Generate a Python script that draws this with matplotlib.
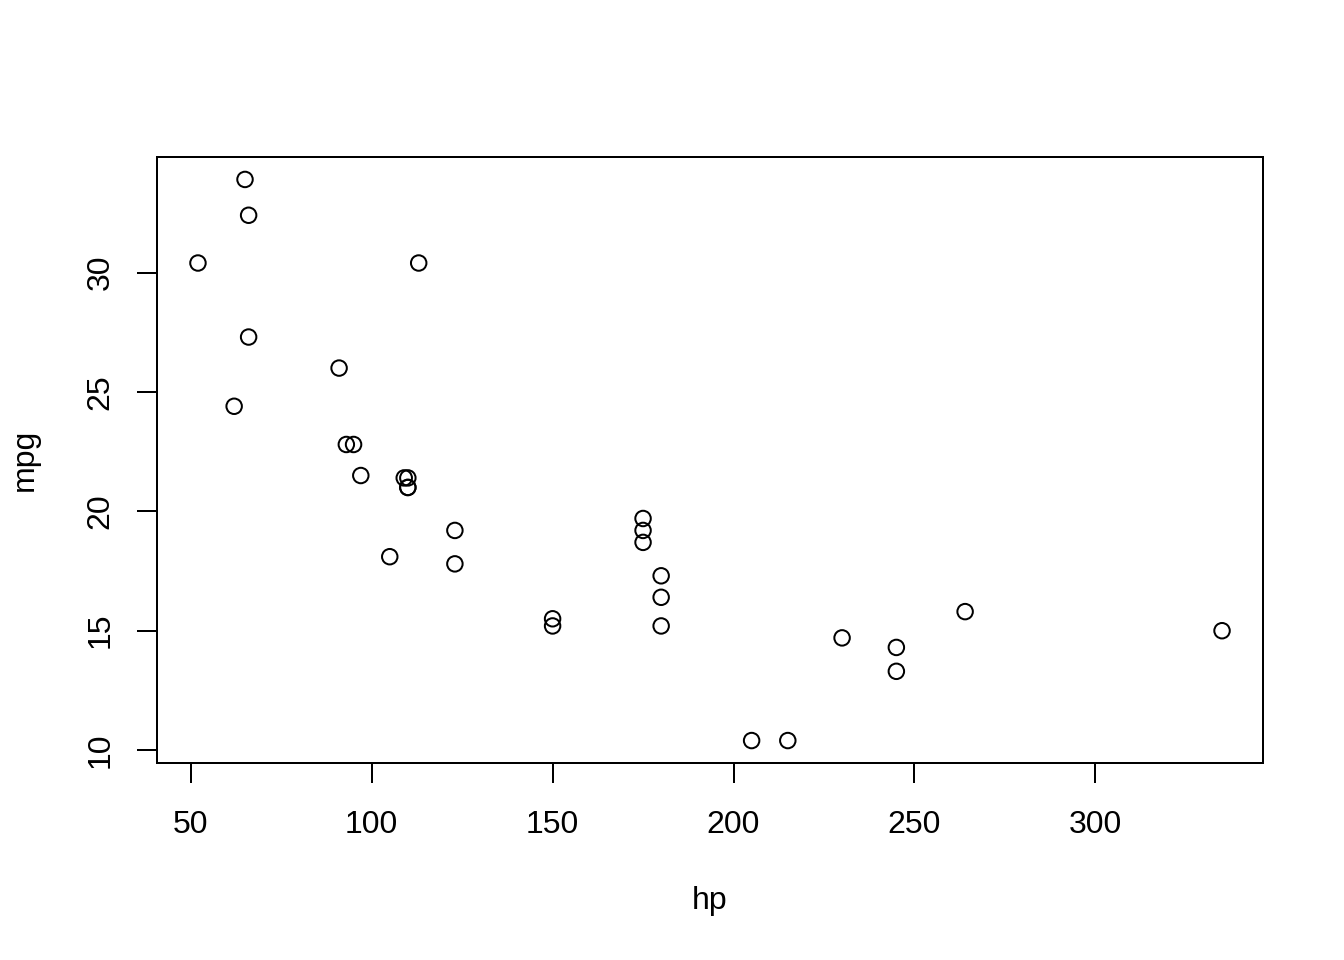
import matplotlib
matplotlib.use("Agg")
import matplotlib.pyplot as plt

# mtcars: horsepower vs miles per gallon
hp = [110, 110, 93, 110, 175, 105, 245, 62, 95, 123, 123, 180, 180, 180, 205, 215,
      230, 66, 52, 65, 97, 150, 150, 245, 175, 66, 91, 113, 264, 175, 335, 109]
mpg = [21.0, 21.0, 22.8, 21.4, 18.7, 18.1, 14.3, 24.4, 22.8, 19.2, 17.8, 16.4, 17.3, 15.2, 10.4, 10.4,
       14.7, 32.4, 30.4, 33.9, 21.5, 15.5, 15.2, 13.3, 19.2, 27.3, 26.0, 30.4, 15.8, 19.7, 15.0, 21.4]
xticks = [50, 100, 150, 200, 250, 300]
yticks = [10, 15, 20, 25, 30]

plt.rcParams['font.family'] = ['Liberation Sans', 'DejaVu Sans']
fig = plt.figure(figsize=(7, 5), dpi=192)
ax = fig.add_axes([157/1344, 1-763/960, 1106/1344, 606/960])

ax.scatter(hp, mpg, s=5.8**2, facecolors='none', edgecolors='black', linewidths=0.75)

# R-style 4% padding
xr = max(hp) - min(hp)
yr = max(mpg) - min(mpg)
ax.set_xlim(min(hp) - 0.04*xr, max(hp) + 0.04*xr)
ax.set_ylim(min(mpg) - 0.04*yr, max(mpg) + 0.04*yr)

ax.set_xticks(xticks)
ax.set_yticks(yticks)
ax.tick_params(axis='both', direction='out', length=7.5, width=0.75, labelsize=12, colors='black')
ax.tick_params(axis='x', pad=10)
ax.tick_params(axis='y', pad=8)
for lab in ax.get_yticklabels():
    lab.set_rotation(90)
    lab.set_va('center')
for sp in ax.spines.values():
    sp.set_linewidth(0.75)

ax.set_xlabel('hp', fontsize=12)
ax.set_ylabel('mpg', fontsize=12)
ax.xaxis.set_label_coords(0.5, (763-901)/606)
ax.xaxis.label.set_va('center')
ax.yaxis.set_label_coords((25-157)/1106, 0.5)
ax.yaxis.label.set_va('center')

fig.savefig('out.png', dpi=192)
